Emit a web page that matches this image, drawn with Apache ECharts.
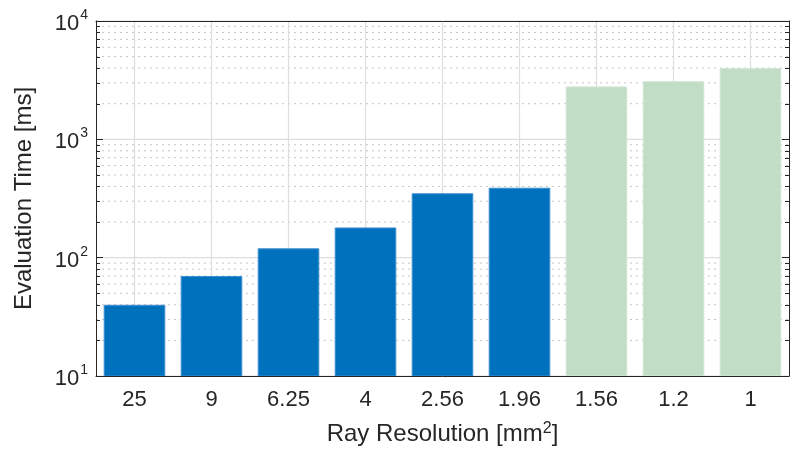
<!DOCTYPE html>
<html><head><meta charset="utf-8">
<script src="https://cdn.jsdelivr.net/npm/echarts@6/dist/echarts.min.js"></script>
<style>html,body{margin:0;padding:0;background:#fff}#c{width:790px;height:452px}</style>
</head><body><div id="c"></div>
<script>
const categories = ['25', '9', '6.25', '4', '2.56', '1.96', '1.56', '1.2', '1'];
const blueValues = [40, 70, 120, 180, 350, 390, '-', '-', '-'];
const greenValues = ['-', '-', '-', '-', '-', '-', 2800, 3100, 4000];
const majorTicks = [10, 100, 1000, 10000];
const minorTicks = [20, 30, 40, 50, 60, 70, 80, 90,
                    200, 300, 400, 500, 600, 700, 800, 900,
                    2000, 3000, 4000, 5000, 6000, 7000, 8000, 9000];

const FONT = '"Liberation Sans", Arial, Helvetica, sans-serif';
const AX = '#262626';

const chart = echarts.init(document.getElementById('c'), null, {renderer: 'canvas'});

function hLines(values, style, z, name) {
  return {
    type: 'custom', name: name, z: z, silent: true, clip: false,
    xAxisIndex: 0, yAxisIndex: 0,
    data: values.map(v => [0, v]),
    renderItem: function (params, api) {
      const cs = params.coordSys;
      const y = api.coord([0, api.value(1)])[1];
      return {type: 'line', shape: {x1: cs.x, y1: y, x2: cs.x + cs.width, y2: y}, style: style};
    }
  };
}

function tickMarks(values, len) {
  return {
    type: 'custom', z: 20, silent: true, clip: false,
    xAxisIndex: 0, yAxisIndex: 0,
    data: values.map(v => [0, v]),
    renderItem: function (params, api) {
      const cs = params.coordSys;
      const y = Math.round(api.coord([0, api.value(1)])[1]) + 0.5;
      return {type: 'group', children: [
        {type: 'line', shape: {x1: cs.x, y1: y, x2: cs.x + len, y2: y}, style: {stroke: AX, lineWidth: 1}},
        {type: 'line', shape: {x1: cs.x + cs.width - len, y1: y, x2: cs.x + cs.width, y2: y}, style: {stroke: AX, lineWidth: 1}}
      ]};
    }
  };
}

const vGrid = {
  type: 'custom', z: 1, silent: true, clip: false,
  xAxisIndex: 0, yAxisIndex: 0,
  data: categories.map((c, i) => [i, 10]),
  renderItem: function (params, api) {
    const cs = params.coordSys;
    const x = api.coord([api.value(0), 10])[0];
    return {type: 'line', shape: {x1: x, y1: cs.y, x2: x, y2: cs.y + cs.height},
            style: {stroke: '#dedede', lineWidth: 1.2}};
  }
};

const option = {
  animation: false,
  backgroundColor: '#fff',
  textStyle: {fontFamily: FONT},
  grid: {left: 96, right: 1, top: 19, bottom: 76, containLabel: false},
  xAxis: [{
    type: 'category', data: categories, position: 'bottom', z: 10,
    name: 'Ray Resolution [mm{s|2}]', nameLocation: 'middle', nameGap: 45,
    nameTextStyle: {fontFamily: FONT, fontSize: 24, color: AX,
      rich: {s: {fontFamily: FONT, fontSize: 16, color: AX, verticalAlign: 'top', padding: [0, 0, 10, 0]}}},
    axisLine: {lineStyle: {color: AX, width: 1}},
    axisTick: {inside: true, alignWithLabel: true, length: 7, lineStyle: {color: AX}},
    axisLabel: {fontFamily: FONT, fontSize: 22, color: AX, margin: 13},
    splitLine: {show: false}
  }, {
    type: 'category', data: categories, position: 'top', z: 10,
    axisLine: {lineStyle: {color: AX, width: 1}},
    axisTick: {inside: true, alignWithLabel: true, length: 7, lineStyle: {color: AX}},
    axisLabel: {show: false}, splitLine: {show: false}
  }],
  yAxis: [{
    type: 'log', logBase: 10, min: 10, max: 10000, position: 'left', z: 10,
    name: 'Evaluation Time [ms]', nameLocation: 'middle', nameGap: 60, nameRotate: 90,
    nameTextStyle: {fontFamily: FONT, fontSize: 24, color: AX},
    axisLine: {show: true, lineStyle: {color: AX, width: 1}},
    axisTick: {show: true, inside: true, length: 7, lineStyle: {color: AX}},
    axisLabel: {
      margin: 8, color: AX,
      formatter: function (v) { return '{b|10}{s|' + Math.round(Math.log10(v)) + '}'; },
      rich: {
        b: {fontFamily: FONT, fontSize: 22, color: AX, lineHeight: 28, verticalAlign: 'bottom', padding: [13, 0, 0, 0]},
        s: {fontFamily: FONT, fontSize: 14, color: AX, lineHeight: 28, verticalAlign: 'top', padding: [1, 0, 0, 1]}
      }
    },
    splitLine: {show: false}, minorTick: {show: false}
  }, {
    type: 'log', logBase: 10, min: 10, max: 10000, position: 'right', z: 10,
    axisLine: {show: true, lineStyle: {color: AX, width: 1}},
    axisTick: {show: true, inside: true, length: 7, lineStyle: {color: AX}},
    axisLabel: {show: false}, splitLine: {show: false}
  }],
  series: [
    hLines(minorTicks, {stroke: '#c4c4c4', lineWidth: 1, lineDash: [2, 4]}, 1, 'minorGrid'),
    hLines(majorTicks, {stroke: '#dedede', lineWidth: 1.2}, 1, 'majorGrid'),
    vGrid,
    tickMarks(minorTicks, 4),
    {
      type: 'bar', name: 'cpu', data: blueValues, barWidth: '80%', barGap: '-100%', z: 3,
      xAxisIndex: 0, yAxisIndex: 0, clip: true,
      itemStyle: {color: '#0072BD', borderColor: '#3d8fd0', borderWidth: 1}
    },
    {
      type: 'bar', name: 'gpu', data: greenValues, barWidth: '80%', barGap: '-100%', z: 3,
      xAxisIndex: 0, yAxisIndex: 0, clip: true,
      itemStyle: {color: '#C2DDC5', borderColor: '#d2e6d4', borderWidth: 1}
    }
  ]
};
chart.setOption(option);
</script>
</body></html>
